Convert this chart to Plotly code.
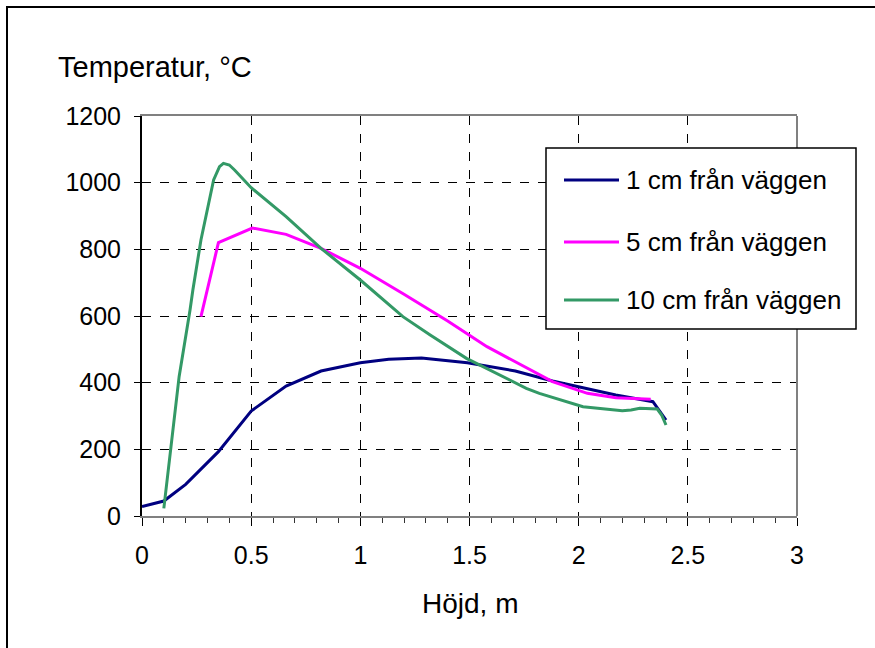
import plotly.graph_objects as go

# Data
x_1cm = [0, 0.1, 0.2, 0.35, 0.5, 0.66, 0.82, 1.0, 1.13, 1.28, 1.49, 1.71, 1.88, 2.02, 2.17, 2.34, 2.40]
y_1cm = [28, 45, 95, 193, 315, 390, 435, 460, 470, 474, 460, 435, 405, 384, 363, 343, 288]

x_5cm = [0.27, 0.35, 0.505, 0.66, 0.82, 1.0, 1.2, 1.4, 1.58, 1.88, 2.04, 2.17, 2.33]
y_5cm = [598, 820, 864, 845, 803, 743, 665, 585, 508, 403, 368, 355, 350]

x_10cm = [0.1, 0.17, 0.22, 0.233, 0.27, 0.31, 0.328, 0.355, 0.373, 0.40, 0.424, 0.50,
          0.66, 0.82, 1.0, 1.195, 1.32, 1.486, 1.76, 1.82, 2.02, 2.20, 2.24, 2.28, 2.36, 2.38, 2.40]
y_10cm = [23, 418, 618, 678, 828, 948, 1008, 1048, 1058, 1053, 1038, 985,
          898, 803, 708, 598, 543, 473, 383, 368, 328, 316, 318, 323, 321, 303, 273]

names = ["1 cm från väggen", "5 cm från väggen", "10 cm från väggen"]
colors = ["#000080", "#FF00FF", "#339966"]

x_ticks = [0, 0.5, 1, 1.5, 2, 2.5, 3]
x_ticklabels = ["0", "0.5", "1", "1.5", "2", "2.5", "3"]
y_ticks = [0, 200, 400, 600, 800, 1000, 1200]

FONT = "Liberation Sans, Arial, sans-serif"

fig = go.Figure()
for i, (xs, ys) in enumerate([(x_1cm, y_1cm), (x_5cm, y_5cm), (x_10cm, y_10cm)]):
    fig.add_trace(go.Scatter(x=xs, y=ys, mode="lines", name=names[i],
                             line=dict(color=colors[i], width=3)))

L, R, T, B = 142, 78, 116, 132
W, H = 875, 648
pw, ph = W - L - R, H - T - B

def px(xp):
    return (xp - L) / pw

def py(yp):
    return (H - B - yp) / ph

fig.update_layout(
    width=W, height=H,
    margin=dict(l=L, r=R, t=T, b=B, pad=0),
    paper_bgcolor="white", plot_bgcolor="white",
    font=dict(family=FONT, size=25, color="black"),
    showlegend=False,
    xaxis=dict(range=[0, 3], tickvals=x_ticks, ticktext=x_ticklabels,
               showgrid=True, gridcolor="black", griddash="dash", gridwidth=1,
               showline=True, linecolor="#808080", linewidth=2, mirror=True,
               ticks="outside", ticklen=8, tickcolor="black", tickwidth=1,
               minor=dict(dtick=0.1, ticks="outside", ticklen=5, tickcolor="#333333", showgrid=False),
               zeroline=False, ticklabelstandoff=8,
               tickfont=dict(size=25, family=FONT)),
    yaxis=dict(range=[0, 1200], tickvals=y_ticks,
               showgrid=True, gridcolor="black", griddash="dash", gridwidth=1,
               showline=True, linecolor="black", linewidth=2,
               ticks="outside", ticklen=6, tickcolor="black",
               zeroline=False, ticklabelstandoff=8,
               tickfont=dict(size=25, family=FONT)),
)

# right edge of plot area (grey)
fig.add_shape(type="line", xref="paper", yref="paper", x0=1, x1=1, y0=0, y1=1,
              line=dict(color="#808080", width=2))
# legend box (white background)
fig.add_shape(type="rect", xref="paper", yref="paper",
              x0=px(546), x1=px(856), y0=py(148), y1=py(329),
              line=dict(color="black", width=1.5), fillcolor="white", layer="above")
legend_rows = [180, 242, 300]
for i, name in enumerate(names):
    yy = py(legend_rows[i])
    fig.add_shape(type="line", xref="paper", yref="paper",
                  x0=px(564), x1=px(619), y0=yy, y1=yy,
                  line=dict(color=colors[i], width=3), layer="above")
    fig.add_annotation(text=name, xref="paper", yref="paper",
                       x=px(624), y=yy, xanchor="left", yanchor="middle",
                       showarrow=False, font=dict(size=26, family=FONT))
# outer border
fig.add_shape(type="rect", xref="paper", yref="paper",
              x0=px(7), x1=px(885), y0=py(7), y1=py(660),
              line=dict(color="black", width=2), fillcolor="rgba(0,0,0,0)")

fig.add_annotation(text="Temperatur, °C", xref="paper", yref="paper",
                   x=px(56), y=py(67), xanchor="left", yanchor="middle",
                   showarrow=False, font=dict(size=29, family=FONT))
fig.add_annotation(text="Höjd, m", xref="paper", yref="paper",
                   x=0.5, y=py(603), xanchor="center", yanchor="middle",
                   showarrow=False, font=dict(size=28, family=FONT))

fig.write_html("out.html")
